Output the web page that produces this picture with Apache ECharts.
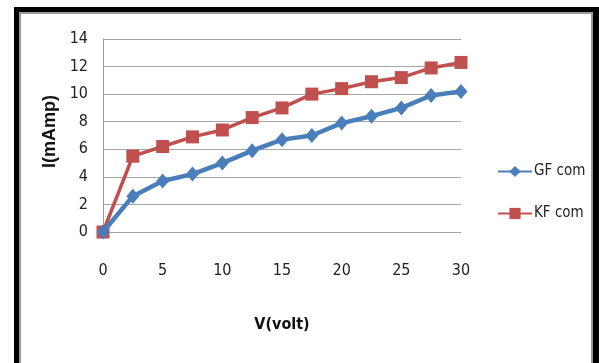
<!DOCTYPE html>
<html>
<head>
<meta charset="utf-8">
<style>
  html, body { margin: 0; padding: 0; background: #ffffff; }
  #chart { width: 599px; height: 363px; }
</style>
<script src="https://cdn.jsdelivr.net/npm/echarts@6/dist/echarts.min.js"></script>
</head>
<body>
<div id="chart"></div>
<script>
// Voltage steps (V) and measured currents (mA)
const voltage = [0, 2.5, 5, 7.5, 10, 12.5, 15, 17.5, 20, 22.5, 25, 27.5, 30];
const gfCom = [0, 2.6, 3.7, 4.2, 5.0, 5.9, 6.7, 7.0, 7.9, 8.4, 9.0, 9.9, 10.2];
const kfCom = [0, 5.5, 6.2, 6.9, 7.4, 8.3, 9.0, 10.0, 10.4, 10.9, 11.2, 11.9, 12.3];
const seriesNames = ['GF com', 'KF com'];

const narrow = '"Liberation Sans Narrow", "DejaVu Sans Condensed", sans-serif';

const chart = echarts.init(document.getElementById('chart'), null, { renderer: 'canvas' });

function pairs(ys) {
  return voltage.map((v, i) => [v, ys[i]]);
}

chart.setOption({
  backgroundColor: '#ffffff',
  animation: false,
  graphic: [
    // heavy black frame round the chart area
    {
      type: 'rect',
      shape: { x: 14, y: 7, width: 600, height: 400 },
      style: { fill: '#000000' },
      silent: true,
      z: -10
    },
    {
      type: 'rect',
      shape: { x: 20, y: 13, width: 572, height: 400 },
      style: { fill: '#ffffff', stroke: '#9a9a9a', lineWidth: 2 },
      silent: true,
      z: -9
    }
  ],
  grid: { left: 103, right: 138, top: 39, bottom: 131 },
  legend: {
    orient: 'vertical',
    left: 492,
    top: 159,
    itemGap: 27,
    itemWidth: 34,
    itemHeight: 14,
    textStyle: { fontFamily: narrow, fontSize: 15, color: '#222222', padding: [0, 0, 0, -3] },
    data: seriesNames
  },
  xAxis: {
    type: 'value',
    min: 0,
    max: 30,
    interval: 5,
    name: 'V(volt)',
    nameLocation: 'middle',
    nameGap: 85,
    nameTextStyle: { fontFamily: narrow, fontSize: 16, fontWeight: 'bold', color: '#111111' },
    axisLine: { show: false },
    axisTick: { show: false },
    axisLabel: { margin: 31, fontFamily: narrow, fontSize: 16, color: '#222222' },
    splitLine: { show: false }
  },
  yAxis: {
    type: 'value',
    min: 0,
    max: 14,
    interval: 2,
    name: 'I(mAmp)',
    nameLocation: 'middle',
    nameGap: 44,
    nameTextStyle: { fontFamily: '"Liberation Sans", Arial, sans-serif', fontSize: 18, fontWeight: 'bold', color: '#111111', padding: [0, 0, 0, 8] },
    axisLine: { show: true, lineStyle: { color: '#9a9a9a', width: 1 } },
    axisTick: { show: false },
    axisLabel: { margin: 15, fontFamily: narrow, fontSize: 16, color: '#222222' },
    splitLine: { show: true, lineStyle: { color: '#a6a6a6', width: 1 } }
  },
  series: [
    {
      name: seriesNames[0],
      type: 'line',
      data: pairs(gfCom),
      symbol: 'diamond',
      symbolSize: [13, 15],
      lineStyle: { color: '#4a7ebb', width: 4.5 },
      itemStyle: { color: '#4a7ebb' },
      z: 3
    },
    {
      name: seriesNames[1],
      type: 'line',
      data: pairs(kfCom),
      symbol: 'rect',
      symbolSize: 13,
      lineStyle: { color: '#c0504d', width: 3.5 },
      itemStyle: { color: '#c0504d' },
      z: 2
    }
  ]
});
</script>
</body>
</html>
